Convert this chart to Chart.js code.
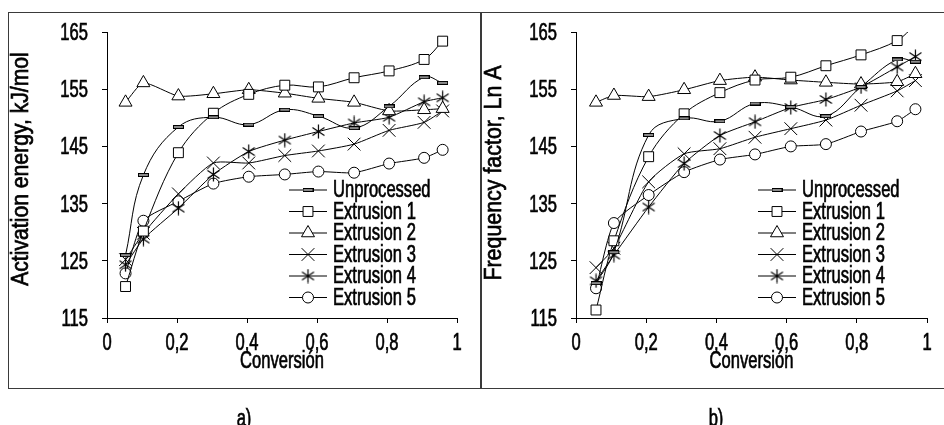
<!DOCTYPE html>
<html>
<head>
<meta charset="utf-8">
<script src="https://cdn.jsdelivr.net/npm/chart.js@4.4.1/dist/chart.umd.min.js"></script>
<style>
  body { margin: 0; background: #fff; width: 944px; height: 425px; overflow: hidden; position: relative; }
  canvas { position: absolute; }
  .box { position: absolute; left: 8px; top: 12px; width: 940px; height: 377px; border: 1.5px solid #3a3a3a; box-sizing: border-box; }
  .divider { position: absolute; left: 480px; top: 12px; width: 1.5px; height: 377px; background: #3a3a3a; }
</style>
</head>
<body>
<div class="box"></div>
<div class="divider"></div>
<canvas id="chartA" width="472" height="412" style="left:9px;top:13px"></canvas>
<canvas id="chartB" width="462" height="412" style="left:482px;top:13px"></canvas>
<script>
var FONT = "'Liberation Sans', Arial, sans-serif";
var SQUEEZE = 0.72;

// conversion
var conversionA = [0.053, 0.104, 0.204, 0.304, 0.405, 0.508, 0.604, 0.706, 0.806, 0.906, 0.959];
var conversionB = [0.057, 0.108, 0.207, 0.308, 0.41, 0.51, 0.612, 0.712, 0.812, 0.915, 0.967];

var seriesNames = ['Unprocessed', 'Extrusion 1', 'Extrusion 2', 'Extrusion 3', 'Extrusion 4', 'Extrusion 5'];

// a) activation energy, kJ/mol
var unprocessedA = [126.0, 140.0, 148.4, 150.1, 148.8, 151.4, 150.3, 148.2, 152.0, 157.1, 156.1];
var ext1A = [120.5, 130.2, 143.9, 150.8, 154.1, 155.7, 155.4, 157.0, 158.2, 160.2, 163.4];
var ext2A = [152.7, 156.1, 153.8, 154.2, 154.9, 154.3, 153.4, 152.7, 151.2, 151.4, 151.6];
var ext3A = [125.2, 129.8, 136.7, 142.1, 142.1, 143.4, 144.2, 145.4, 147.8, 149.2, 151.2];
var ext4A = [124.3, 128.8, 134.2, 140.1, 144.1, 146.1, 147.6, 149.1, 150.1, 152.8, 153.5];
var ext5A = [122.8, 132.0, 135.4, 138.5, 139.7, 140.1, 140.6, 140.4, 142.0, 143.0, 144.4];

// b) frequency factor, Ln A
var unprocessedB = [121.1, 126.5, 147.0, 149.9, 149.4, 152.5, 151.9, 150.3, 155.4, 160.2, 159.8];
var ext1B = [116.4, 128.5, 143.2, 150.7, 154.4, 156.6, 157.1, 159.1, 161.0, 163.5, 166.3];
var ext2B = [152.7, 153.9, 153.7, 154.9, 156.5, 157.1, 156.6, 156.2, 155.9, 156.3, 157.7];
var ext3B = [123.8, 127.2, 138.8, 143.7, 144.6, 146.6, 148.1, 149.6, 152.2, 154.7, 156.5];
var ext4B = [121.5, 126.0, 134.4, 142.0, 146.9, 149.3, 151.8, 153.2, 155.4, 158.9, 160.7];
var ext5B = [120.2, 131.6, 136.5, 140.5, 142.7, 143.6, 145.0, 145.4, 147.6, 149.4, 151.5];

var yTicks = [115, 125, 135, 145, 155, 165];
var xTicks = [0, 0.2, 0.4, 0.6, 0.8, 1];

// small marker images that chart.js has no style for
function makeDash() {
  var c = document.createElement('canvas');
  c.width = 11; c.height = 4;
  var g = c.getContext('2d');
  g.fillStyle = '#000';
  g.fillRect(0, 0, 11, 4);
  g.fillStyle = '#8a8a8a';
  g.fillRect(1, 1, 9, 2);
  return c;
}
function makeAsterisk() {
  var c = document.createElement('canvas');
  c.width = 15; c.height = 15;
  var g = c.getContext('2d');
  g.strokeStyle = '#000';
  g.lineWidth = 1.2;
  g.beginPath();
  g.moveTo(7.5, 0.5); g.lineTo(7.5, 14.5);
  g.moveTo(1.5, 3.5); g.lineTo(13.5, 11.5);
  g.moveTo(1.5, 11.5); g.lineTo(13.5, 3.5);
  g.stroke();
  return c;
}
var dashImg = makeDash();
var starImg = makeAsterisk();

var markers = [
  { pointStyle: dashImg, radius: 6, tension: 0.4 },
  { pointStyle: 'rect', radius: 7, tension: 0.35 },
  { pointStyle: 'triangle', radius: 7.5, tension: 0.2 },
  { pointStyle: 'crossRot', radius: 9, tension: 0.2 },
  { pointStyle: starImg, radius: 7, tension: 0.2 },
  { pointStyle: 'circle', radius: 5.5, tension: 0.2 }
];

function toPoints(xs, ys) {
  return xs.map(function (x, i) { return { x: x, y: ys[i] }; });
}

function buildDatasets(xs, lists) {
  return lists.map(function (ys, i) {
    return {
      label: seriesNames[i],
      data: toPoints(xs, ys),
      borderColor: '#000',
      borderWidth: 1,
      backgroundColor: '#fff',
      pointStyle: markers[i].pointStyle,
      pointRadius: markers[i].radius,
      pointBorderColor: '#000',
      pointBackgroundColor: '#fff',
      pointBorderWidth: 1,
      tension: markers[i].tension
    };
  });
}

// the original uses a very narrow, heavy face, so text is drawn squeezed
// with a thin outline to thicken it
function squeezed(ctx, text, x, y, sx, align) {
  ctx.save();
  ctx.translate(x, y);
  ctx.scale(sx, 1);
  ctx.textAlign = align;
  ctx.textBaseline = 'alphabetic';
  ctx.fillText(text, 0, 0);
  ctx.strokeStyle = '#000';
  ctx.lineWidth = 0.7;
  ctx.strokeText(text, 0, 0);
  ctx.restore();
}

var textPlugin = {
  id: 'squeezedText',
  afterDraw: function (chart) {
    var ctx = chart.ctx;
    var area = chart.chartArea;
    var o = chart.options.plugins.squeezedText;
    ctx.save();
    ctx.fillStyle = '#000';
    ctx.font = '23px ' + FONT;

    // tick labels placed through the scales
    var ys = chart.scales.y;
    ys.ticks.forEach(function (t) {
      squeezed(ctx, String(t.value), area.left - 19, ys.getPixelForValue(t.value) + 8, SQUEEZE, 'right');
    });
    var xs = chart.scales.x;
    xs.ticks.forEach(function (t) {
      var v = t.value;
      var s = v === 0 ? '0' : v === 1 ? '1' : v.toFixed(1).replace('.', ',');
      squeezed(ctx, s, xs.getPixelForValue(v), area.bottom + 32, SQUEEZE, 'center');
    });
    squeezed(ctx, 'Conversión', (area.left + area.right) / 2, area.bottom + 50, SQUEEZE, 'center');

    // rotated y title
    ctx.save();
    ctx.translate(19, o.titleY);
    ctx.rotate(-Math.PI / 2);
    squeezed(ctx, o.yTitle, 0, 0, o.titleSqueeze, 'center');
    ctx.restore();

    // panel caption
    squeezed(ctx, o.caption, o.captionX, 413, SQUEEZE, 'center');

    // legend inside the plot
    var x0 = area.left + 182;
    chart.data.datasets.forEach(function (ds, i) {
      var y = area.top + 158 + i * 21.5;
      ctx.strokeStyle = '#000';
      ctx.lineWidth = 1;
      ctx.beginPath();
      ctx.moveTo(x0, y);
      ctx.lineTo(x0 + 38, y);
      ctx.stroke();
      ctx.fillStyle = '#fff';
      Chart.helpers.drawPoint(ctx, {
        pointStyle: ds.pointStyle, radius: ds.pointRadius, borderWidth: 1, rotation: 0
      }, x0 + 19, y);
      ctx.fillStyle = '#000';
      squeezed(ctx, ds.label, x0 + 44, y + 7, SQUEEZE, 'left');
    });
    ctx.restore();
  }
};

function makeChart(id, xs, lists, cfg) {
  var ctx = document.getElementById(id).getContext('2d');
  return new Chart(ctx, {
    type: 'line',
    data: { datasets: buildDatasets(xs, lists) },
    options: {
      responsive: false,
      animation: false,
      devicePixelRatio: 1,
      layout: { padding: { top: 19, right: cfg.rightPad, left: 0, bottom: 0 } },
      plugins: {
        legend: { display: false },
        tooltip: { enabled: false },
        squeezedText: cfg
      },
      scales: {
        x: {
          type: 'linear',
          min: 0, max: 1,
          afterBuildTicks: function (s) { s.ticks = xTicks.map(function (v) { return { value: v }; }); },
          afterFit: function (s) { s.height = 107; },
          grid: { drawOnChartArea: false, drawTicks: true, tickLength: 5, color: '#000' },
          border: { display: true, color: '#000', width: 1 },
          ticks: { display: false }
        },
        y: {
          min: 115, max: 165,
          afterBuildTicks: function (s) { s.ticks = yTicks.map(function (v) { return { value: v }; }); },
          afterFit: function (s) { s.width = cfg.yWidth; },
          grid: { drawOnChartArea: false, drawTicks: true, tickLength: 5, color: '#000' },
          border: { display: true, color: '#000', width: 1 },
          ticks: { display: false }
        }
      }
    },
    plugins: [textPlugin]
  });
}

makeChart('chartA', conversionA, [unprocessedA, ext1A, ext2A, ext3A, ext4A, ext5A], {
  yTitle: 'Activation energy, kJ/mol', titleY: 156, titleSqueeze: 0.92,
  yWidth: 98, rightPad: 24, caption: 'a)', captionX: 235
});
makeChart('chartB', conversionB, [unprocessedB, ext1B, ext2B, ext3B, ext4B, ext5B], {
  yTitle: 'Frequency factor, Ln A', titleY: 160, titleSqueeze: 0.93,
  yWidth: 94, rightPad: 17, caption: 'b)', captionX: 234
});
</script>
</body>
</html>
